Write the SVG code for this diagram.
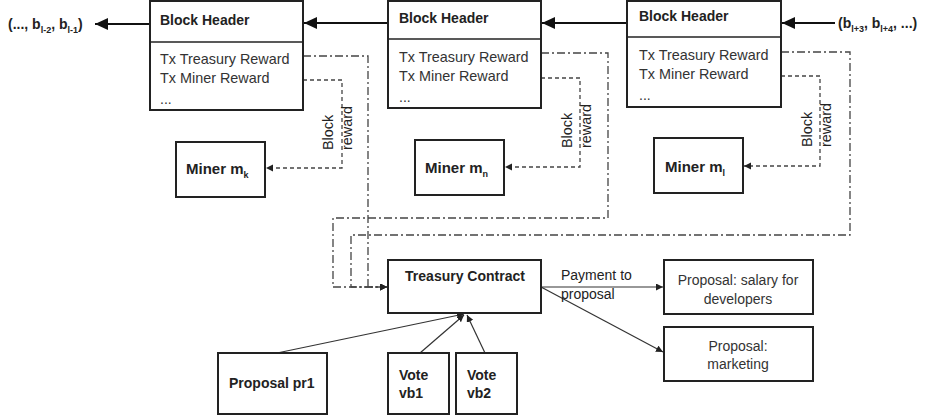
<svg xmlns="http://www.w3.org/2000/svg" width="932" height="417" viewBox="0 0 932 417">
<style>
text{font-family:"Liberation Sans",Arial,sans-serif;font-size:14px;fill:#222}
.b{font-weight:bold}
.r{fill:#333}
.tx{font-size:14.4px}
.m{font-size:15px}
.box{fill:#fff;stroke:#222;stroke-width:2}
.div{stroke:#222;stroke-width:1.5}
.chain{stroke:#111;stroke-width:2;fill:none}
.dd{stroke:#444;stroke-width:1.3;fill:none;stroke-dasharray:8 3 2 3}
.dash{stroke:#444;stroke-width:1.3;fill:none;stroke-dasharray:4 3}
.thin{stroke:#333;stroke-width:1.2;fill:none}
.sub{font-size:9px}
</style>
<defs>
<marker id="big" markerUnits="userSpaceOnUse" markerWidth="14" markerHeight="12" refX="13" refY="6" orient="auto"><path d="M0,0 L13,6 L0,12 Z" fill="#111"/></marker>
<marker id="sm" markerUnits="userSpaceOnUse" markerWidth="8" markerHeight="8" refX="7" refY="3.5" orient="auto"><path d="M0,0 L7,3.5 L0,7 Z" fill="#222"/></marker>
</defs>

<g id="connectors">
<line class="chain" x1="150" y1="24" x2="95" y2="24" marker-end="url(#big)"/>
<line class="chain" x1="388" y1="23" x2="304" y2="23" marker-end="url(#big)"/>
<line class="chain" x1="627" y1="23" x2="542" y2="23" marker-end="url(#big)"/>
<line class="chain" x1="835" y1="23" x2="782" y2="23" marker-end="url(#big)"/>
<path class="dd" d="M303,56 H368 V287 H387" marker-end="url(#sm)"/>
<path class="dd" d="M541,53 H608 V218 H333 V287 H387" marker-end="url(#sm)"/>
<path class="dd" d="M781,52 H850 V235 H351 V287 H387" marker-end="url(#sm)"/>
<path class="dash" d="M303,80 H342 V168 H266" marker-end="url(#sm)"/>
<path class="dash" d="M541,78 H580 V167 H505" marker-end="url(#sm)"/>
<path class="dash" d="M781,76 H820 V166 H744" marker-end="url(#sm)"/>
<line class="thin" x1="541" y1="287" x2="663" y2="287" marker-end="url(#sm)"/>
<line class="thin" x1="541" y1="287" x2="663" y2="352" marker-end="url(#sm)"/>
<line class="thin" x1="277" y1="353" x2="464" y2="314" marker-end="url(#sm)"/>
<line class="thin" x1="420" y1="353" x2="464" y2="315" marker-end="url(#sm)"/>
<line class="thin" x1="485" y1="353" x2="467" y2="315" marker-end="url(#sm)"/>
<text class="tx" transform="translate(333,150) rotate(-90)">Block</text>
<text class="tx" transform="translate(352,150) rotate(-90)">reward</text>
<text class="tx" transform="translate(572,148) rotate(-90)">Block</text>
<text class="tx" transform="translate(591,148) rotate(-90)">reward</text>
<text class="tx" transform="translate(812,147) rotate(-90)">Block</text>
<text class="tx" transform="translate(831,147) rotate(-90)">reward</text>
<text x="561" y="280">Payment to</text>
<text x="561" y="299">proposal</text>
</g>

<g id="chain-left"><text class="b" x="8" y="29">(..., b<tspan class="sub" dy="4">l-2</tspan><tspan dy="-4">, b</tspan><tspan class="sub" dy="4">l-1</tspan><tspan dy="-4">)</tspan></text></g>
<g id="chain-right"><text class="b" x="838" y="28">(b<tspan class="sub" dy="4">l+3</tspan><tspan dy="-4">, b</tspan><tspan class="sub" dy="4">l+4</tspan><tspan dy="-4">, ...)</tspan></text></g>

<g id="block1">
<rect class="box" x="150" y="1" width="153" height="109"/>
<line class="div" x1="150" y1="42" x2="303" y2="42"/>
<text class="b" x="160" y="25">Block Header</text>
<text class="r tx" x="160" y="64">Tx Treasury Reward</text>
<text class="r tx" x="160" y="83">Tx Miner Reward</text>
<text class="r" x="160" y="104" font-size="10">...</text>
</g>
<g id="block2">
<rect class="box" x="388" y="1" width="153" height="107"/>
<line class="div" x1="388" y1="39" x2="541" y2="39"/>
<text class="b" x="399" y="23">Block Header</text>
<text class="r tx" x="399" y="62">Tx Treasury Reward</text>
<text class="r tx" x="399" y="81">Tx Miner Reward</text>
<text class="r" x="399" y="102" font-size="10">...</text>
</g>
<g id="block3">
<rect class="box" x="627" y="1" width="154" height="106"/>
<line class="div" x1="627" y1="37" x2="781" y2="37"/>
<text class="b" x="639" y="21">Block Header</text>
<text class="r tx" x="639" y="60">Tx Treasury Reward</text>
<text class="r tx" x="639" y="79">Tx Miner Reward</text>
<text class="r" x="639" y="100" font-size="10">...</text>
</g>

<g id="miner-mk">
<rect class="box" x="176" y="142" width="89" height="55"/>
<text class="b m" x="186" y="174">Miner m<tspan class="sub" dy="4">k</tspan></text>
</g>
<g id="miner-mn">
<rect class="box" x="415" y="140" width="89" height="55"/>
<text class="b m" x="425" y="173">Miner m<tspan class="sub" dy="4">n</tspan></text>
</g>
<g id="miner-ml">
<rect class="box" x="654" y="138" width="89" height="55"/>
<text class="b m" x="665" y="172">Miner m<tspan class="sub" dy="4">l</tspan></text>
</g>

<g id="treasury">
<rect class="box" x="388" y="260" width="153" height="53"/>
<text class="b" x="465" y="281" text-anchor="middle">Treasury Contract</text>
</g>
<g id="proposal-salary">
<rect class="box" x="664" y="260" width="149" height="54"/>
<text class="r" x="738" y="285" text-anchor="middle">Proposal: salary for</text>
<text class="r" x="738" y="304" text-anchor="middle">developers</text>
</g>
<g id="proposal-marketing">
<rect class="box" x="664" y="327" width="149" height="54"/>
<text class="r" x="738" y="351" text-anchor="middle">Proposal:</text>
<text class="r" x="738" y="369" text-anchor="middle">marketing</text>
</g>
<g id="proposal-pr1">
<rect class="box" x="218" y="353" width="109" height="61"/>
<text class="b" x="229" y="388">Proposal pr1</text>
</g>
<g id="vote-vb1">
<rect class="box" x="388" y="353" width="61" height="61"/>
<text class="b" x="399" y="380">Vote</text>
<text class="b" x="399" y="398">vb1</text>
</g>
<g id="vote-vb2">
<rect class="box" x="456" y="353" width="61" height="61"/>
<text class="b" x="467" y="380">Vote</text>
<text class="b" x="467" y="398">vb2</text>
</g>
</svg>
